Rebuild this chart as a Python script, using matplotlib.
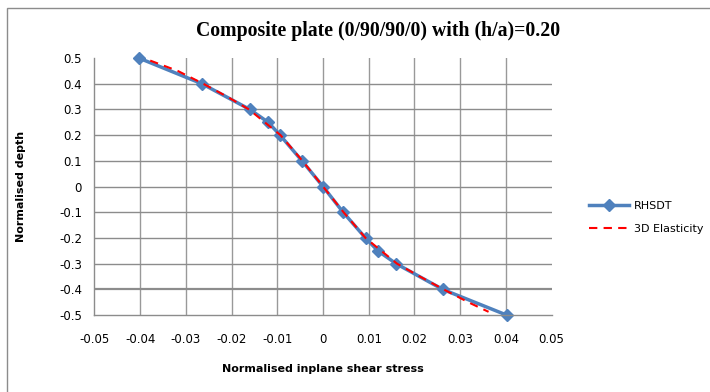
import numpy as np
import matplotlib
matplotlib.use('Agg')
import matplotlib.pyplot as plt
from matplotlib.patches import Rectangle

# RHSDT results (markers)
rhsdt_stress = [-0.0403, -0.0265, -0.0160, -0.0120, -0.0094, -0.0046, 0.0,
                0.0044, 0.0093, 0.0120, 0.0160, 0.0262, 0.0402]
rhsdt_depth = [0.5, 0.4, 0.3, 0.25, 0.2, 0.1, 0.0,
               -0.1, -0.2, -0.25, -0.3, -0.4, -0.5]

# 3D elasticity solution
elast_stress = [-0.0378, -0.0318, -0.0262, -0.0210, -0.0162, -0.0093, -0.0045, 0.0,
                0.0045, 0.0093, 0.0162, 0.0212, 0.0264, 0.0318, 0.0362]
elast_depth = [0.49, 0.45, 0.4, 0.35, 0.3, 0.2, 0.1, 0.0,
               -0.1, -0.2, -0.3, -0.35, -0.4, -0.45, -0.487]

x_ticks = [-0.05, -0.04, -0.03, -0.02, -0.01, 0, 0.01, 0.02, 0.03, 0.04, 0.05]
x_labels = ['-0.05', '-0.04', '-0.03', '-0.02', '-0.01', '0',
            '0.01', '0.02', '0.03', '0.04', '0.05']
y_ticks = [0.5, 0.4, 0.3, 0.2, 0.1, 0, -0.1, -0.2, -0.3, -0.4, -0.5]
y_labels = ['0.5', '0.4', '0.3', '0.2', '0.1', '0',
            '-0.1', '-0.2', '-0.3', '-0.4', '-0.5']

fig = plt.figure(figsize=(7.1, 3.92), dpi=100)
ax = fig.add_axes([0.133, 0.196, 0.644, 0.656])

# gridlines (no line at the top / right edge, like Excel)
for xv in x_ticks[1:-1]:
    ax.axvline(xv, color='#999999', lw=1.0, zorder=0)
for yv in y_ticks[1:-1]:
    ax.axhline(yv, color='#8c8c8c', lw=1.6 if yv == -0.4 else 1.0, zorder=0)

ax.plot(rhsdt_stress, rhsdt_depth, color='#4f81bd', lw=2.5, marker='D',
        markersize=6.5, label='RHSDT', zorder=2, clip_on=False)
ax.plot(elast_stress, elast_depth, color='#ff0000', lw=1.5, ls=(0, (4, 3)),
        label='3D Elasticity', zorder=3, clip_on=False)

ax.set_xlim(-0.05, 0.05)
ax.set_ylim(-0.5, 0.5)
ax.set_xticks(x_ticks)
ax.set_xticklabels(x_labels)
ax.set_yticks(y_ticks)
ax.set_yticklabels(y_labels)
ax.tick_params(length=0, labelsize=8.5, pad=13)
ax.tick_params(axis='y', pad=9)

for s in ['top', 'right']:
    ax.spines[s].set_visible(False)
for s in ['left', 'bottom']:
    ax.spines[s].set_color('#8c8c8c')
    ax.spines[s].set_linewidth(1.0)

ax.set_xlabel('Normalised inplane shear stress', fontsize=8, fontweight='bold',
              labelpad=13)
ax.set_ylabel('Normalised depth', fontsize=8, fontweight='bold', labelpad=24)
fig.text(0.532, 0.922, 'Composite plate (0/90/90/0) with (h/a)=0.20',
         ha='center', va='center', fontsize=14.2, fontweight='bold',
         family='Liberation Serif')

ax.legend(loc='center left', bbox_to_anchor=(1.06, 0.38), frameon=False,
          fontsize=8, handlelength=3.6, handletextpad=0.4, labelspacing=1.2)

# chart border: the right and bottom edges fall outside the picture
fig.patches.append(Rectangle((0.01, -0.1), 1.1, 1.08, transform=fig.transFigure,
                             fill=False, edgecolor='#8c8c8c', lw=1.0))

fig.savefig('out.png', dpi=100)
